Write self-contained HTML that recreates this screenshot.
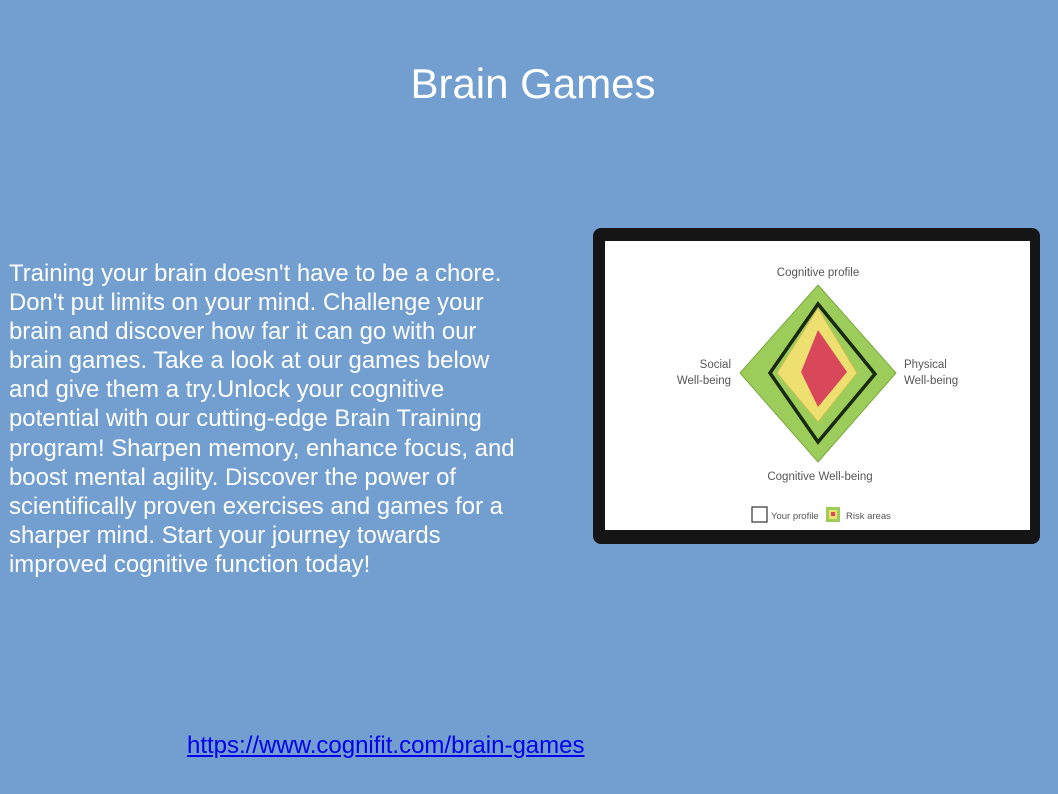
<!DOCTYPE html>
<html><head><style>
body{margin:0;width:1058px;height:794px;background:#729fcf;position:relative;overflow:hidden;font-family:"Liberation Sans",sans-serif;color:#fff}
.t{position:absolute;left:0;width:1066px;text-align:center;top:60px;font-size:42px}
.p{position:absolute;left:9px;top:259px;width:560px;font-size:23.9px;line-height:29.1px;white-space:nowrap}
.l{position:absolute;left:187px;top:732px;font-size:24px;color:#0000ee;text-decoration:underline}
</style></head><body>
<div class="t">Brain Games</div>
<div class="p">Training your brain doesn't have to be a chore.<br>Don't put limits on your mind. Challenge your<br>brain and discover how far it can go with our<br>brain games. Take a look at our games below<br>and give them a try.Unlock your cognitive<br>potential with our cutting-edge Brain Training<br>program! Sharpen memory, enhance focus, and<br>boost mental agility. Discover the power of<br>scientifically proven exercises and games for a<br>sharper mind. Start your journey towards<br>improved cognitive function today!</div>
<div class="l">https://www.cognifit.com/brain-games</div>
<svg style="position:absolute;left:0;top:0" width="1058" height="794">
<rect x="593" y="228" width="447" height="316" rx="8" fill="#151515"/>
<rect x="605" y="241" width="425" height="289" fill="#fff"/>
<polygon points="818,285 896,373 818,462 740,373" fill="#9ccc5a" stroke="#7aa840"/>
<polygon points="818,308 857,373 818,422 777,373" fill="#eee070" stroke="#c9c050"/>
<polygon points="818,330 847,372 818,407 801,372" fill="#d9485a"/>
<polygon points="818,304 875,374 818,442 770,373" fill="none" stroke="#1a2a10" stroke-width="3.5"/>
<g font-family="Liberation Sans,sans-serif" fill="#555" font-size="11.5">
<text x="818" y="276" text-anchor="middle">Cognitive profile</text>
<text x="731" y="368" text-anchor="end">Social</text>
<text x="731" y="384" text-anchor="end">Well-being</text>
<text x="904" y="368">Physical</text>
<text x="904" y="384">Well-being</text>
<text x="820" y="480" text-anchor="middle">Cognitive Well-being</text>
<text x="771" y="519" font-size="9.5">Your profile</text>
<text x="846" y="519" font-size="9.5">Risk areas</text>
</g>
<rect x="752" y="507" width="15" height="15" fill="none" stroke="#333" stroke-width="1.2"/>
<rect x="826" y="507" width="14" height="15" fill="#9ccc5a"/>
<rect x="829" y="510" width="8" height="9" fill="#eee070"/>
<rect x="831" y="512" width="4" height="4" fill="#d9485a"/>
</svg>
</body></html>
